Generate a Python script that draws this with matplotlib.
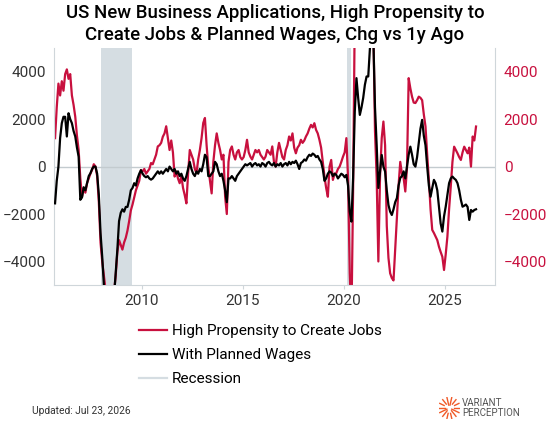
import numpy as np
import matplotlib.pyplot as plt

# monthly values, Sep 2005 .. Jul 2026
start_year, start_month = 2005, 9

high_propensity = [
    1200, 2500, 3500, 3000,
    3600, 3200, 3900, 4100, 3700, 3900, 3000, 2600, 2100, 1300, 700, -500,
    -1270, -900, -1100, -700, -500, -300, -140, 100, 0, -400, -1500, -3200,
    -4000, -4600, -5200, -5300, -5400, -5500, -5600, -5300, -4600, -3600, -3100, -3300,
    -3500, -3200, -3000, -2700, -2300, -1850, -1600, -1300, -1000, -800, -600, -150,
    -200, -100, -300, -200, -100, 150, 100, 300, 500, 850, 900, 1000,
    1260, 1400, 1700, 1200, 700, 1100, 600, -420, -200, -500, -700, -400,
    -900, -1200, -1550, -300, 700, 500, 300, -100, -280, 300, 700, 1200,
    1840, 2050, 900, 0, -600, -1130, 200, 900, 1400, 1000, 700, 300,
    500, -1270, -2000, 200, 700, 850, 500, 300, 600, 700, 400, 300,
    400, 700, 1130, 600, 420, 300, 500, 700, 600, 700, 500, 400,
    300, 420, 700, 600, 500, 850, 200, 0, 600, 1000, 700, 400,
    300, 700, 900, 1270, 1100, 1400, 800, 560, 800, 900, 1130, 1000,
    1100, 1270, 1400, 1600, 1760, 1650, 1830, 1550, 1400, 1130, 800, 200,
    -420, -900, -1270, 0, 280, -560, -300, -280, -100, 0, 200, 420,
    600, 1200, -480, -4500, -6500, -1000, 6500, 8000, 9000, 9000, 9000, 9000,
    9000, 9000, 8500, 8000, 7000, 6000, 1500, -480, -4000, -400, 1200, 1900,
    900, -2500, -3850, -4500, -4700, -4800, -3500, -2170, -800, 200, -300, -480,
    -1050, -60, 3730, 3300, 2950, 2700, 2680, 2800, 2950, 2900, 2800, 2200,
    1690, 500, -560, -1800, -2670, -2800, -2950, -3100, -3380, -3600, -3800, -4360,
    -3700, -2950, -1800, -840, 200, 840, 700, 560, 400, 280, 600, 840,
    700, 560, 800, 0, 1270, 1100, 1690,
]

planned_wages = [
    -1550, -600, 0, 1200,
    1830, 2100, 2100, 1270, 2250, 2000, 1830, 1500, 1270, 800, 420, -1400,
    -1300, -870, -1000, -700, -400, -280, -100, 0, 0, -300, -1200, -2800,
    -3800, -5000, -5500, -5700, -5800, -5800, -5700, -5500, -4500, -3500, -2300, -1950,
    -1800, -1900, -1700, -1700, -1400, -1000, -900, -700, -800, -500, -300, -150,
    -300, -400, -450, -400, -500, -550, -500, -400, -300, -200, -300, -200,
    -300, -200, -100, -200, 0, -100, -200, -100, -300, -200, -400, -300,
    -500, -600, -400, -100, 200, -100, -300, -400, -200, -300, -100, -200,
    100, 500, 400, -400, -400, -300, -200, 200, 100, -200, -400, -300,
    -600, -1000, -1500, -500, -500, -400, -500, -600, -400, -300, -200, -100,
    0, 100, 50, 100, 150, 0, 100, 150, 50, 100, 0, 150,
    100, 0, 150, 200, 100, 50, 150, 0, 100, 50, 150, 0,
    100, 150, 50, 200, 100, 200, 150, 250, 100, -100, 150, 200,
    300, 250, 400, 500, 450, 550, 500, 400, 450, 300, 200, -100,
    -600, -500, -300, -200, -250, -400, -300, -350, -500, -400, -300, -350,
    -450, -350, -800, -1900, -2320, -480, 2320, 3730, 2900, 2180, 2500, 2900,
    3450, 3800, 3800, 5000, 6500, 5500, 2500, 900, -900, -200, 490, 0,
    -210, -1000, -1620, -1900, -2040, -1800, -1500, -1330, -800, -480, -400, -200,
    -500, 0, 500, 840, 500, 100, 0, 400, 1000, 1600, 1970, 1300,
    900, 0, -800, -1270, -900, -560, -700, -1000, -1700, -2400, -2740, -2100,
    -1690, -1200, -700, -500, -420, -500, -560, -700, -1000, -1400, -1690, -1650,
    -1600, -1700, -2250, -1830, -1900, -1830, -1800,
]

recessions = [(2008.0, 2009.5), (2020.17, 2020.33)]
year_ticks = [2010, 2015, 2020, 2025]
value_ticks = [-4000, -2000, 0, 2000, 4000]

RED = '#c8103e'
GREY_TXT = '#333333'
AXIS_GREY = '#cfd6da'

plt.rcParams['font.family'] = ['Roboto', 'DejaVu Sans']

n = len(high_propensity)
t = start_year + (start_month - 1 + np.arange(n) + 0.5) / 12

fig = plt.figure(figsize=(5.5, 4.25), dpi=100)
ax = fig.add_axes([0.0987, 0.329, 0.802, 0.558])

for a, b in recessions:
    ax.axvspan(a, b, color='#d5dde2', lw=0, zorder=0)
ax.axhline(0, color='#c3cbcf', lw=1, zorder=1)

ax.plot(t, high_propensity, color=RED, lw=1.6, zorder=2, label='High Propensity to Create Jobs')
ax.plot(t, planned_wages, color='black', lw=1.6, zorder=3, label='With Planned Wages')

ax.set_xlim(2005.67, 2027.5)
ax.set_ylim(-5000, 5000)
ax.set_xticks(year_ticks)
ax.set_yticks(value_ticks)
ax.tick_params(axis='x', length=3, color=AXIS_GREY, labelsize=11, labelcolor=GREY_TXT, pad=3)
ax.tick_params(axis='y', length=0, labelsize=11, labelcolor=GREY_TXT, pad=6)
for s in ['top', 'right']:
    ax.spines[s].set_visible(False)
for s in ['left', 'bottom']:
    ax.spines[s].set_color(AXIS_GREY)

ax2 = ax.twinx()
ax2.set_ylim(ax.get_ylim())
ax2.set_yticks(value_ticks)
ax2.tick_params(axis='y', length=0, labelsize=11, labelcolor=RED, pad=6)
for s in ['top', 'left', 'bottom']:
    ax2.spines[s].set_visible(False)
ax2.spines['right'].set_color(AXIS_GREY)

fig.text(0.5, 0.99, 'US New Business Applications, High Propensity to\nCreate Jobs & Planned Wages, Chg vs 1y Ago',
         ha='center', va='top', fontsize=13.4, fontweight='medium', linespacing=1.3)

handles, labels = ax.get_legend_handles_labels()
handles.append(plt.Line2D([], [], color='#d5dde2', lw=1.6))
labels.append('Recession')
fig.legend(handles, labels, loc='upper left', bbox_to_anchor=(0.227, 0.27), frameon=False,
           fontsize=11, handlelength=1.85, handletextpad=0.35, labelspacing=0.67)

fig.text(0.058, 0.032, 'Updated: Jul 23, 2026', fontsize=7.4, color=GREY_TXT, va='center')

# logo
lax = fig.add_axes([0.797, 0.015, 0.04, 0.05])
lax.set_xlim(-1, 1)
lax.set_ylim(-1, 1)
lax.set_aspect('equal')
lax.axis('off')
for ang in np.linspace(0, 2 * np.pi, 14, endpoint=False):
    r0 = 0.4 + 0.15 * np.sin(3 * ang)
    lax.plot([r0 * np.cos(ang), np.cos(ang)], [r0 * np.sin(ang), np.sin(ang)], color='#f05a28', lw=1)
fig.text(0.84, 0.039, 'VARIANT\nPERCEPTION', fontsize=7, color='#555555', va='center', linespacing=1.0)

fig.savefig('out.png', dpi=100)
